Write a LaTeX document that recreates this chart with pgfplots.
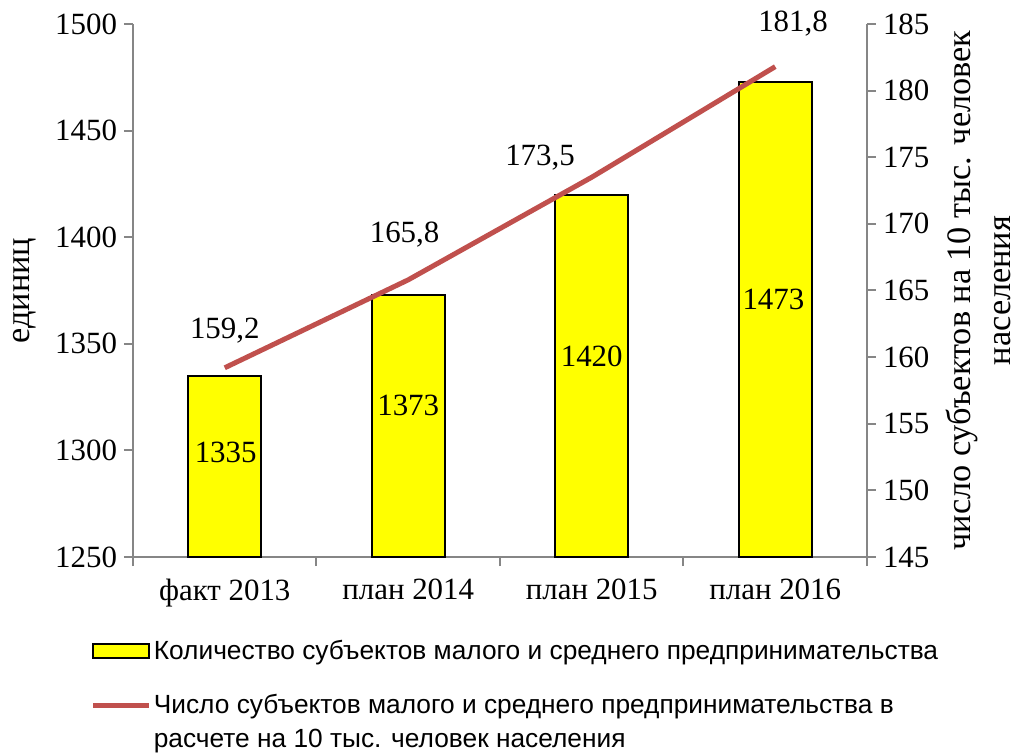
\documentclass[border=0pt]{standalone}
\usepackage{pgfplots}
\pgfplotsset{compat=1.18}
\usepackage{fontspec}
\setmainfont{Liberation Serif}
\newfontfamily\legfont{Liberation Sans}
\definecolor{axgray}{RGB}{134,134,134}
\definecolor{linered}{RGB}{192,80,77}
\definecolor{baryellow}{RGB}{255,255,0}
\newcommand\tfont{\rmfamily\fontsize{15.5}{18}\selectfont}
\pgfplotsset{
  every axis/.append style={
    width=367bp, height=266.5bp, scale only axis,
    xmin=-0.5, xmax=3.5,
    axis line style={axgray, line width=1bp},
    tick style={axgray, line width=1bp},
    major tick length=4.5bp,
    tick align=outside,
    /pgf/number format/assume math mode=true,
    /pgf/number format/1000 sep={},
    tick label style={font=\tfont},
    label style={font=\rmfamily\fontsize{17.2}{20}\selectfont},
  }
}
\begin{document}
\begin{tikzpicture}
\path[use as bounding box] (-66.5bp,-98.5bp) rectangle (444.5bp,278.5bp);
\begin{axis}[
  ymin=1250, ymax=1500,
  ytick={1250,1300,1350,1400,1450,1500},
  yticklabels={1250,1300,1350,1400,1450,1500},
  axis x line*=bottom, axis y line*=left,
  xtick={-0.5,0.5,1.5,2.5,3.5},
  x tick label as interval,
  xticklabels={факт 2013,план 2014,план 2015,план 2016},
  xticklabel style={yshift=-3bp},
  ylabel={единиц},
  ylabel style={at={(axis description cs:-0.148,0.5)}, anchor=center},
  legend style={
    at={(axis description cs:-0.058,-0.148)}, anchor=north west,
    draw=none, fill=none, inner sep=0pt,
    font=\legfont\fontsize{13.2}{17}\selectfont,
    cells={anchor=west, align=left},
    nodes={inner xsep=1bp},
    row sep=12bp,
  },
]
\addplot[ybar, bar width=36.5bp, fill=baryellow, draw=black, line width=1bp,
  legend image code/.code={\draw[fill=baryellow, draw=black, line width=1bp] (0bp,-3.5bp) rectangle (28bp,3.5bp);}]
  coordinates {(0,1335) (1,1373) (2,1420) (3,1473)};
\addlegendentry{Количество субъектов малого и среднего предпринимательства}
\addlegendimage{linered, line width=2.5bp,
  legend image code/.code={\draw (0bp,8.5bp) -- (28bp,8.5bp);}}
\addlegendentry{Число субъектов малого и среднего предпринимательства в\\расчете на 10 тыс. человек населения}
\node[font=\tfont] at (axis cs:0.005,1299) {1335};
\node[font=\tfont] at (axis cs:1.0,1321) {1373};
\node[font=\tfont] at (axis cs:2.0,1344) {1420};
\node[font=\tfont] at (axis cs:2.99,1371) {1473};
\end{axis}
\begin{axis}[
  ymin=145, ymax=185,
  ytick={145,150,155,160,165,170,175,180,185},
  yticklabels={145,150,155,160,165,170,175,180,185},
  axis x line=none, axis y line*=right,
  clip=false,
  ylabel={число субъектов на 10 тыс. человек\\населения},
  ylabel style={at={(axis description cs:1.152,0.5)}, anchor=center, align=center},
]
\addplot[linered, line width=2.5bp] coordinates {(0,159.2) (1,165.8) (2,173.5) (3,181.8)};
\node[font=\tfont] at (axis cs:0.0,162.0) {159,2};
\node[font=\tfont] at (axis cs:0.98,169.2) {165,8};
\node[font=\tfont] at (axis cs:1.718,175.0) {173,5};
\node[font=\tfont] at (axis cs:3.097,185.0) {181,8};
\end{axis}
\end{tikzpicture}
\end{document}
